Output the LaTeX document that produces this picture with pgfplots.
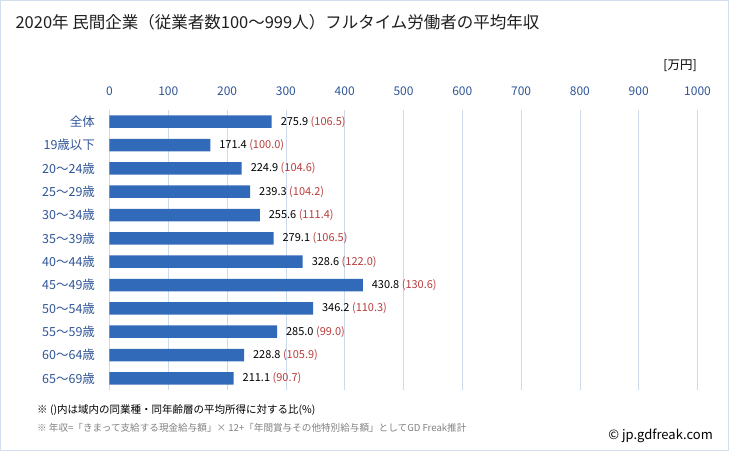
\documentclass[border=0pt]{standalone}
\usepackage{pgfplots}
\pgfplotsset{compat=1.18}
\usepackage{pgfplotstable}
\usepackage{fontspec}
\setmainfont{Noto Sans CJK JP}
\definecolor{tickblue}{RGB}{47,85,151}
\definecolor{barblue}{RGB}{50,106,186}
\definecolor{gridc}{RGB}{205,218,234}
\definecolor{ratioc}{RGB}{185,60,60}
\definecolor{borderc}{RGB}{210,222,238}
\pgfplotstableread{
idx val ratio
0 275.9 106.5
1 171.4 100.0
2 224.9 104.6
3 239.3 104.2
4 255.6 111.4
5 279.1 106.5
6 328.6 122.0
7 430.8 130.6
8 346.2 110.3
9 285.0 99.0
10 228.8 105.9
11 211.1 90.7
}\datatable
\begin{document}
\begin{tikzpicture}[x=1pt,y=1pt]
\useasboundingbox (0,0) rectangle (729,451);
\draw[borderc, line width=1.2pt] (0.6,0.6) rectangle (728.4,450.4);
\begin{axis}[
  at={(109.5pt,61pt)}, anchor=south west,
  scale only axis, width=588pt, height=280pt,
  xmin=0, xmax=1000, ymin=-0.5, ymax=11.5,
  y dir=reverse,
  xtick={0,100,...,1000},
  ytick={0,...,11},
  yticklabels={全体,19歳以下,20〜24歳,25〜29歳,30〜34歳,35〜39歳,40〜44歳,45〜49歳,50〜54歳,55〜59歳,60〜64歳,65〜69歳},
  xticklabel pos=top,
  major tick length=0pt,
  axis line style={draw=none},
  xmajorgrids, grid style={gridc, line width=0.8pt},
  /pgf/number format/assume math mode=true,
  /pgf/number format/1000 sep={},
  xticklabel style={font=\fontsize{12}{14}\selectfont, text=tickblue, yshift=11pt},
  yticklabel style={font=\fontsize{12.5}{14}\selectfont, text=tickblue, anchor=east, xshift=-11pt},
  xbar, bar width=12.5pt,
  point meta=explicit symbolic,
  nodes near coords={\pgfplotspointmeta\ \textcolor{ratioc}{(\pgfmathprintnumber[fixed,precision=1,fixed zerofill,assume math mode=true]{\ratio})}},
  every node near coord/.append style={anchor=west, xshift=5.5pt, font=\fontsize{11}{13}\selectfont, text=black},
  clip=false,
]
\addplot[fill=barblue, draw=none,
  visualization depends on={\thisrow{ratio} \as \ratio}]
  table[x=val, y=idx, meta=val] {\datatable};
\end{axis}
\node[anchor=west, text=black!88, font=\fontsize{16.5}{19}\selectfont] at (12,429) {2020年 民間企業（従業者数100〜999人）フルタイム労働者の平均年収};
\node[anchor=east, font=\fontsize{12.5}{14}\selectfont, inner sep=0pt] at (697,385) {[万円]};
\node[anchor=west, font=\fontsize{10.5}{12}\selectfont, inner sep=0pt] at (37,41) {※ ()内は域内の同業種・同年齢層の平均所得に対する比(\%)};
\node[anchor=west, font=\fontsize{9.6}{12}\selectfont, text=black!50, inner sep=0pt] at (37,23) {※ 年収=「きまって支給する現金給与額」× 12+「年間賞与その他特別給与額」としてGD Freak推計};
\node[anchor=east, font=\fontsize{13}{15}\selectfont, inner sep=0pt] at (713,15) {© jp.gdfreak.com};
\end{tikzpicture}
\end{document}
